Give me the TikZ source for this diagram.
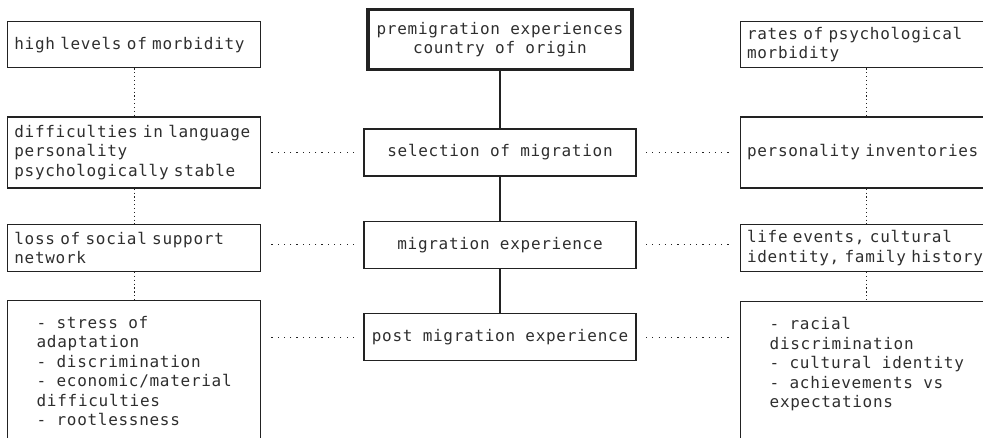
\documentclass[tikz,border=0pt]{standalone}
\usepackage{fontspec}
\setmonofont{DejaVu Sans Mono}[LetterSpace=4.4]
\usepackage{xcolor}
\usepackage{tikz}
\usetikzlibrary{positioning}
\definecolor{PathInk}{HTML}{222222}
\definecolor{PathText}{HTML}{2E2E2E}

\begin{document}
\begin{tikzpicture}[
  x=0.75pt, y=-0.75pt,
  node distance=33pt,
  stagebox/.style={
    draw=PathInk,
    line width=1pt,
    align=center,
    minimum width=204pt,
    minimum height=35.25pt,
    inner ysep=3pt,
    text=PathText,
    font=\fontsize{12}{14.6}\selectfont\ttfamily
  },
  startbox/.style={stagebox, line width=2.8pt, minimum width=198pt, minimum height=45pt},
  notebox/.style={stagebox, align=left, text width=179.75pt, inner xsep=5pt, minimum width=189.75pt},
  listbox/.style={stagebox, align=left, minimum width=189.75pt, minimum height=105.75pt},
  solidlink/.style={line width=1.3pt, draw=PathInk},
  hdotlink/.style={line width=0.9pt, draw=PathInk, dash pattern=on 0.9pt off 3.8pt, shorten <=7pt, shorten >=7pt},
  vdotlink/.style={line width=0.9pt, draw=PathInk, dash pattern=on 0.9pt off 2pt}
]
\useasboundingbox (0,0) rectangle (983,437);
\clip (0,0) rectangle (983,437);
% middle column
\node[stagebox] (select) at (500,152.5) {selection of migration};
\node[startbox, above=42.75pt of select] (premig) {premigration experiences\\country of origin};
\node[stagebox, below=of select] (migexp) {migration experience};
\node[stagebox, below=of migexp] (postmig) {post migration experience};
% left column
\node[notebox, minimum height=53.25pt, left=76.5pt of select] (difflang) {difficulties in language\\personality\\psychologically stable};
\node[notebox, minimum height=34.5pt, above=36pt of difflang] (morbid) {high levels of morbidity};
\node[notebox, below=26.25pt of difflang] (support) {loss of social support\\network};
\node[listbox, below=21pt of support] (stress) {- stress of\\adaptation\\- discrimination\\- economic/material\\difficulties\\- rootlessness};
% right column
\node[notebox, minimum height=53.25pt, right=77.25pt of select] (persinv) {personality inventories};
\node[notebox, minimum height=34.5pt, above=36pt of persinv] (psymorb) {rates of psychological\\morbidity};
\node[notebox, below=26.25pt of persinv] (lifeev) {life events, cultural\\identity, family history};
\node[listbox, below=21.75pt of lifeev] (racial) {- racial\\discrimination\\- cultural identity\\- achievements vs\\expectations\\\mbox{}};
\draw[solidlink] (premig) -- (select);
\draw[solidlink] (select) -- (migexp);
\draw[solidlink] (migexp) -- (postmig);
\draw[vdotlink] (morbid) -- (difflang);
\draw[vdotlink] (difflang) -- (support);
\draw[vdotlink] (support) -- (stress);
\draw[vdotlink] (psymorb) -- (persinv);
\draw[vdotlink] (persinv) -- (lifeev);
\draw[vdotlink] (lifeev) -- (racial);
\draw[hdotlink] (select.west) -- (select.west -| difflang.east);
\draw[hdotlink] (select.east) -- (select.east -| persinv.west);
\draw[hdotlink] (migexp.west) -- (migexp.west -| support.east);
\draw[hdotlink] (migexp.east) -- (migexp.east -| lifeev.west);
\draw[hdotlink] (postmig.west) -- (postmig.west -| stress.east);
\draw[hdotlink] (postmig.east) -- (postmig.east -| racial.west);
\end{tikzpicture}
\end{document}
